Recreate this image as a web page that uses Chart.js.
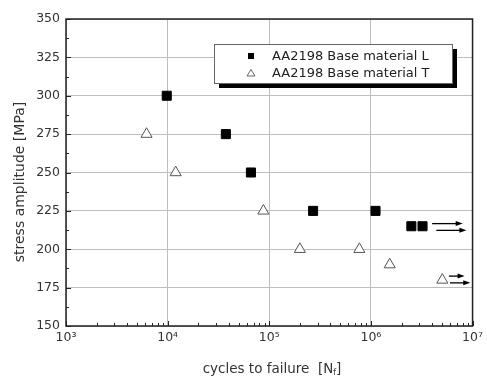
<!DOCTYPE html>
<html>
<head>
<meta charset="utf-8">
<script src="https://cdn.jsdelivr.net/npm/chart.js@4/dist/chart.umd.min.js"></script>
<style>
  html, body { margin: 0; padding: 0; background: #fff; }
  #wrap { width: 487px; height: 378px; position: relative; }
</style>
</head>
<body>
<div id="wrap"><canvas id="c" width="487" height="378"></canvas></div>
<script>
// ---- data ----
const seriesNames = ['AA2198 Base material L', 'AA2198 Base material T'];
const cyclesL = [9.8e3, 3.74e4, 6.6e4, 2.7e5, 1.11e6, 2.5e6, 3.22e6];
const stressL = [300, 275, 250, 225, 225, 215, 215];
const cyclesT = [6.2e3, 1.2e4, 8.75e4, 2.0e5, 7.7e5, 1.53e6, 5.04e6];
const stressT = [275, 250, 225, 200, 200, 190, 180];
// run-out arrows (data units)
const arrowStartX = [4.0e6, 4.4e6, 5.85e6, 6.0e6];
const arrowEndX   = [8.0e6, 8.7e6, 8.35e6, 9.5e6];
const arrowY      = [216.7, 212.3, 182.5, 178.1];
// axes
const xDecades = [1e3, 1e4, 1e5, 1e6, 1e7];
const yTicks = [150, 175, 200, 225, 250, 275, 300, 325, 350];
const xTitle = ['cycles to failure  [N', 'f', ']'];
const yTitle = 'stress amplitude [MPa]';

const FONT = 'DejaVu Sans';
const sup = {3:'\u00B3',4:'\u2074',5:'\u2075',6:'\u2076',7:'\u2077'};

const toPts = (xs, ys) => xs.map((x, i) => ({x: x, y: ys[i]}));

const decor = {
  id: 'decor',
  beforeDatasetsDraw(chart) {
    const {ctx, chartArea: a, scales: {x, y}} = chart;
    ctx.save();
    ctx.strokeStyle = '#222';
    ctx.lineWidth = 1;
    // minor x ticks
    ctx.beginPath();
    for (let d = 3; d < 7; d++) {
      for (let k = 2; k <= 9; k++) {
        const px = Math.round(x.getPixelForValue(k * Math.pow(10, d))) + 0.5;
        ctx.moveTo(px, a.bottom); ctx.lineTo(px, a.bottom - 3);
      }
    }
    xDecades.forEach(v => {
      const px = Math.round(x.getPixelForValue(v)) + 0.5;
      ctx.moveTo(px, a.bottom); ctx.lineTo(px, a.bottom - 5);
    });
    // y ticks
    for (let i = 0; i < yTicks.length - 1; i++) {
      const py = Math.round(y.getPixelForValue(yTicks[i] + 12.5)) + 0.5;
      ctx.moveTo(a.left, py); ctx.lineTo(a.left + 3, py);
    }
    yTicks.forEach(v => {
      const py = Math.round(y.getPixelForValue(v)) + 0.5;
      ctx.moveTo(a.left, py); ctx.lineTo(a.left + 5, py);
    });
    ctx.stroke();
    // frame
    ctx.strokeStyle = '#222';
    ctx.lineWidth = 1.5;
    ctx.strokeRect(a.left, a.top, a.right - a.left, a.bottom - a.top);
    ctx.restore();
  },
  afterDatasetsDraw(chart) {
    const {ctx, chartArea: a, scales: {x, y}} = chart;
    ctx.save();
    // arrows
    ctx.strokeStyle = '#000';
    ctx.fillStyle = '#000';
    ctx.lineWidth = 1.3;
    for (let i = 0; i < arrowY.length; i++) {
      const x1 = x.getPixelForValue(arrowStartX[i]);
      const x2 = x.getPixelForValue(arrowEndX[i]);
      const py = y.getPixelForValue(arrowY[i]);
      ctx.beginPath();
      ctx.moveTo(x1, py); ctx.lineTo(x2 - 5, py);
      ctx.stroke();
      ctx.beginPath();
      ctx.moveTo(x2, py); ctx.lineTo(x2 - 7, py - 2.5); ctx.lineTo(x2 - 7, py + 2.5);
      ctx.closePath(); ctx.fill();
    }
    // legend box
    const lx = 214, ly = 44, lw = 238, lh = 39;
    ctx.fillStyle = '#000';
    ctx.fillRect(lx + 5, ly + 5, lw, lh);
    ctx.fillStyle = '#fff';
    ctx.fillRect(lx, ly, lw, lh);
    ctx.strokeStyle = '#666';
    ctx.lineWidth = 1;
    ctx.strokeRect(lx + 0.5, ly + 0.5, lw, lh);
    ctx.font = '13px "' + FONT + '"';
    ctx.textBaseline = 'middle';
    ctx.textAlign = 'left';
    const rows = [56, 73];
    chart.data.datasets.forEach((ds, i) => {
      const my = rows[i];
      if (i === 0) {
        ctx.fillStyle = '#000';
        ctx.fillRect(248, my - 3, 6, 6);
      } else {
        ctx.strokeStyle = '#666';
        ctx.lineWidth = 1;
        ctx.beginPath();
        ctx.moveTo(251, my - 3.5); ctx.lineTo(255, my + 3); ctx.lineTo(247, my + 3);
        ctx.closePath(); ctx.stroke();
      }
      ctx.fillStyle = '#222';
      ctx.fillText(ds.label, 272, my + 0.5);
    });
    ctx.restore();
  },
  afterDraw(chart) {
    const {ctx, chartArea: a} = chart;
    ctx.save();
    ctx.fillStyle = '#333';
    ctx.textBaseline = 'middle';
    // x title with subscript
    const big = '13.5px "' + FONT + '"', small = '8px "' + FONT + '"';
    ctx.font = big; const w0 = ctx.measureText(xTitle[0]).width;
    const w2 = ctx.measureText(xTitle[2]).width;
    ctx.font = small; const w1 = ctx.measureText(xTitle[1]).width;
    let tx = 272 - (w0 + w1 + w2) / 2;
    const ty = 369;
    ctx.textAlign = 'left';
    ctx.font = big; ctx.fillText(xTitle[0], tx, ty); tx += w0;
    ctx.font = small; ctx.fillText(xTitle[1], tx, ty + 4); tx += w1;
    ctx.font = big; ctx.fillText(xTitle[2], tx, ty);
    // y title
    ctx.translate(20, 182);
    ctx.rotate(-Math.PI / 2);
    ctx.textAlign = 'center';
    ctx.font = '14px "' + FONT + '"';
    ctx.fillText(yTitle, 0, 0);
    ctx.restore();
  }
};

new Chart(document.getElementById('c'), {
  type: 'scatter',
  data: {
    datasets: [
      {
        label: seriesNames[0],
        data: toPts(cyclesL, stressL),
        pointStyle: 'rect',
        pointRadius: 6.4,
        backgroundColor: '#000',
        borderColor: '#000',
        borderWidth: 1
      },
      {
        label: seriesNames[1],
        data: toPts(cyclesT, stressT),
        pointStyle: 'triangle',
        pointRadius: 6.4,
        backgroundColor: '#fff',
        borderColor: '#555',
        borderWidth: 1
      }
    ]
  },
  options: {
    responsive: false,
    animation: false,
    devicePixelRatio: 1,
    layout: { padding: { top: 19, right: 9, left: 0, bottom: 0 } },
    plugins: { legend: { display: false }, tooltip: { enabled: false } },
    scales: {
      x: {
        type: 'logarithmic',
        min: 1e3, max: 1e7,
        afterBuildTicks: s => { s.ticks = xDecades.map(v => ({value: v, major: true})); },
        afterFit: s => { s.height = 52; },
        ticks: {
          autoSkip: false, maxRotation: 0, padding: 4,
          color: '#333', font: { family: FONT, size: 12.5 },
          callback: v => '10' + sup[Math.round(Math.log10(v))]
        },
        grid: { color: '#bdbdbd', lineWidth: 1, drawTicks: false },
        border: { display: false }
      },
      y: {
        min: 150, max: 350,
        afterBuildTicks: s => { s.ticks = yTicks.map(v => ({value: v})); },
        afterFit: s => { s.width = 66; },
        ticks: {
          padding: 6, color: '#333', font: { family: FONT, size: 12.5 }
        },
        grid: { color: '#bdbdbd', lineWidth: 1, drawTicks: false },
        border: { display: false }
      }
    }
  },
  plugins: [decor]
});
</script>
</body>
</html>
